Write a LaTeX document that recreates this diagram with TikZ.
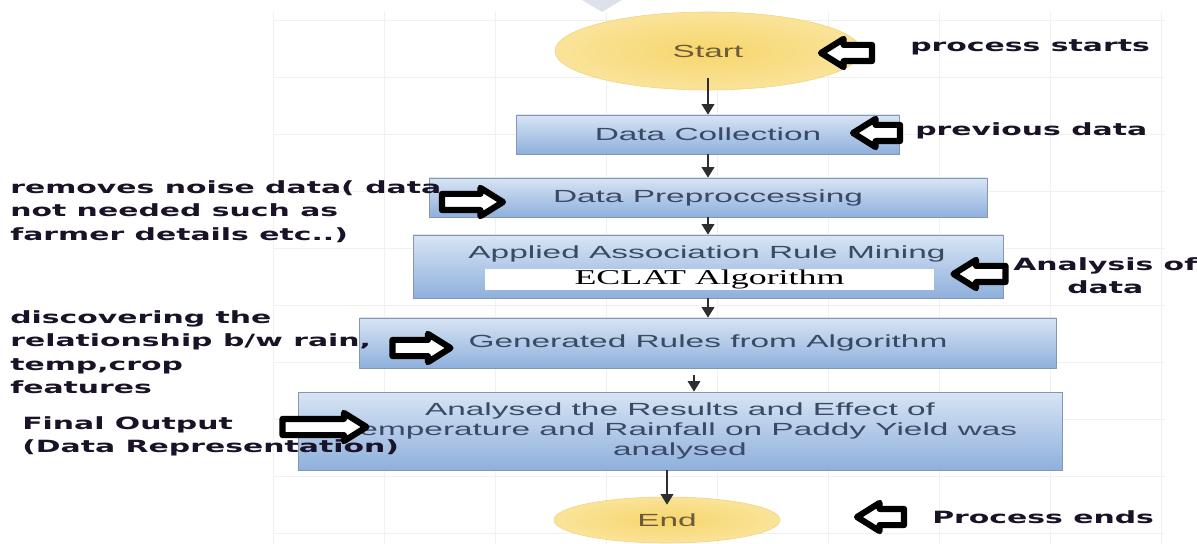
\documentclass[tikz,border=0pt]{standalone}
\usepackage{fontspec}
\setmainfont{Liberation Sans}
\newfontfamily\boxfont{Liberation Sans}[FakeStretch=1.9]
\newfontfamily\notefont{DejaVu Sans Bold}[FakeStretch=1.77]
\newfontfamily\eclatfont{Liberation Serif}[FakeStretch=1.7]
\usetikzlibrary{shapes.geometric,shapes.arrows,arrows.meta}

\definecolor{boxtop}{HTML}{D8E4F4}
\definecolor{boxbot}{HTML}{8EB0DC}
\definecolor{boxedge}{HTML}{8497B4}
\definecolor{boxtext}{HTML}{3A4964}
\definecolor{terminner}{HTML}{F7D66C}
\definecolor{termouter}{HTML}{FAE39A}
\definecolor{termedge}{HTML}{F0D27E}
\definecolor{termtext}{HTML}{6B5B3C}
\definecolor{notetext}{HTML}{1A1226}
\definecolor{gridline}{HTML}{F0F0F0}
\definecolor{flowgrey}{HTML}{2E2E2E}
\definecolor{wmark}{HTML}{DDE2EA}

\newdimen\unitpx \unitpx=0.025cm

\tikzset{
  stepbox/.style={draw=boxedge, line width=0.5pt, top color=boxtop, bottom color=boxbot,
    text=boxtext, inner sep=0pt, align=center, font={\boxfont\fontsize{12.5}{13.9}\selectfont}},
  terminal/.style={ellipse, draw=termedge, line width=0.4pt, inner color=terminner, outer color=termouter,
    text=termtext, inner sep=0pt, font={\boxfont\fontsize{12.5}{14}\selectfont}},
  eclatbox/.style={fill=white, inner sep=0pt, text=black, font={\eclatfont\fontsize{15}{15}\selectfont}},
  flow/.style={draw=flowgrey, line width=1.1pt, -{Triangle[length=7.5pt,width=9pt]}},
  pointer/.style={single arrow, draw=black, fill=white, line width=4.4pt, line join=round, inner xsep=0pt,
    inner ysep=5\unitpx, single arrow head extend=6\unitpx, single arrow tip angle=64},
  note/.style={text=notetext, inner sep=0pt, align=left, font={\notefont\fontsize{12}{16.7}\selectfont}},
}

\begin{document}
\begin{tikzpicture}[x=0.025cm, y=-0.025cm]
  \useasboundingbox (0,0) rectangle (1197,544);

  %% canvas grid
  \foreach \gx in {0,...,8}
    \draw[gridline, line width=0.6pt] (273+111*\gx, 12) -- (273+111*\gx, 544);
  \foreach \gy in {0,...,9}
    \draw[gridline, line width=0.6pt] (273, 20+57*\gy) -- (1165, 20+57*\gy);
  \fill[wmark] (582,0) -- (622,0) -- (602,12) -- cycle;

  %% flow
  \node[terminal, minimum width=306\unitpx, minimum height=78\unitpx] (start) at (708,51) {Start};
  \node[stepbox, minimum width=383\unitpx, minimum height=39\unitpx] (collect) at (708,134.5) {Data Collection};
  \node[stepbox, minimum width=558\unitpx, minimum height=39\unitpx] (prep) at (708,197.5) {Data Preproccessing};
  \node[stepbox, minimum width=590\unitpx, minimum height=63\unitpx] (mining) at (708,266.5) {};
  \node[text=boxtext, inner sep=0pt, font={\boxfont\fontsize{12.5}{14}\selectfont}] (miningtext) at (707,254) {Applied Association Rule Mining};
  \node[eclatbox, minimum width=449\unitpx, minimum height=21\unitpx] (eclat) at (709.5,279.5) {ECLAT Algorithm};
  \node[stepbox, minimum width=697\unitpx, minimum height=50\unitpx] (rules) at (708,343) {Generated Rules from Algorithm};
  \node[stepbox, minimum width=764\unitpx, minimum height=78\unitpx] (result) at (680,431)
    {Analysed the Results and Effect of\\Temperature and Rainfall on Paddy Yield was\\analysed};
  \node[terminal, minimum width=226\unitpx, minimum height=46\unitpx] (finish) at (667,520) {End};

  \draw[flow] ([yshift=12\unitpx]start.south) -- (collect.north);
  \draw[flow] (collect) -- (prep);
  \draw[flow] (prep) -- (mining);
  \draw[flow] (mining) -- (rules);
  \draw[flow, line width=0.8pt] ([xshift=-14\unitpx,yshift=-7\unitpx]rules.south) -- ([xshift=-14\unitpx]rules.south |- result.north);
  \draw[flow] (result.south -| finish.north) -- ([yshift=-8\unitpx]finish.north);

  %% pointers
  \node[pointer, minimum height=51\unitpx, shape border rotate=180] (pstart) at (853,53) {};
  \node[pointer, minimum height=47\unitpx, shape border rotate=180] (pcollect) at (883,133) {};
  \node[pointer, minimum height=61\unitpx] (pprep) at (466,202) {};
  \node[pointer, minimum height=52\unitpx, shape border rotate=180] (pmining) at (986,274) {};
  \node[pointer, minimum height=58\unitpx] (prules) at (415,348) {};
  \node[pointer, minimum height=84\unitpx] (presult) at (318,427) {};
  \node[pointer, minimum height=47\unitpx, shape border rotate=180] (pfinish) at (887,517) {};

  %% notes
  \node[note, anchor=west] (nstart) at (910,47) {process starts};
  \node[note, anchor=west] (ncollect) at (915,131) {previous data};
  \node[note, anchor=north west] (nprep) at (10,180) {removes noise data( data\\not needed such as\\farmer details etc..)};
  \node[note, anchor=north west, align=center] (nmining) at (1013,257) {Analysis of\\data};
  \node[note, anchor=north west] (nrules) at (10,310) {discovering the\\relationship b/w rain,\\temp,crop\\features};
  \node[note, anchor=north west] (nresult) at (22,416) {Final Output\\(Data Representation)};
  \node[note, anchor=west] (nfinish) at (932,517) {Process ends};
\end{tikzpicture}
\end{document}
